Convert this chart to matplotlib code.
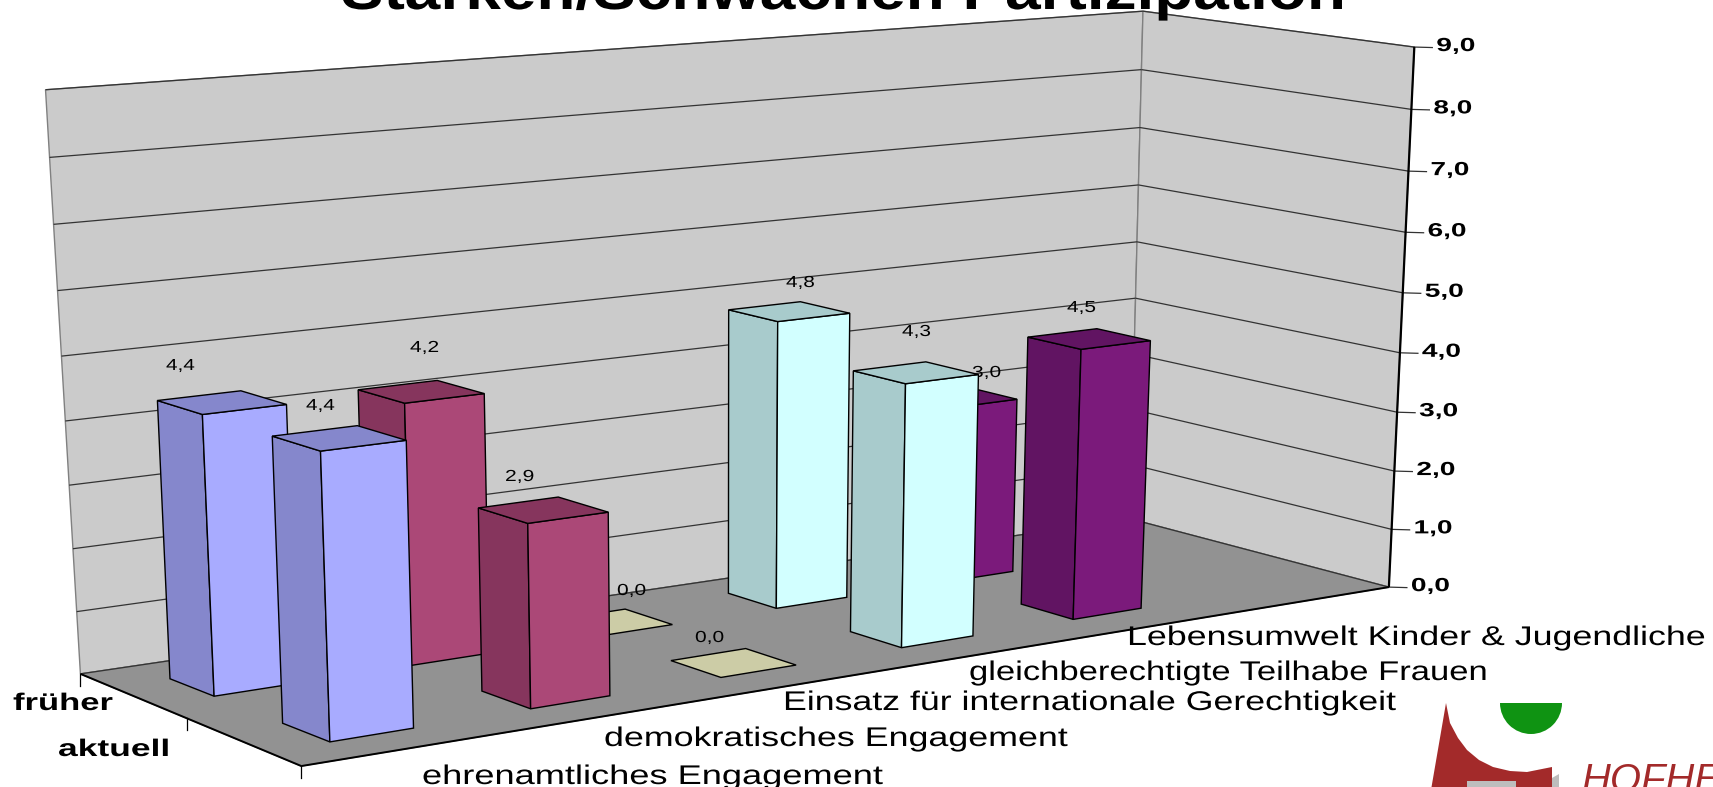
import matplotlib
matplotlib.use('Agg')
import matplotlib.pyplot as plt
import numpy as np
from matplotlib.patches import Polygon, Rectangle, Wedge
from matplotlib.patheffects import AbstractPathEffect
from matplotlib.transforms import Affine2D

plt.rcParams['font.family'] = ['Liberation Sans', 'DejaVu Sans']

# Datos
categorias = ['ehrenamtliches Engagement', 'demokratisches Engagement',
              'Einsatz für internationale Gerechtigkeit',
              'gleichberechtigte Teilhabe Frauen', 'Lebensumwelt Kinder & Jugendliche']
series = ['früher', 'aktuell']
frueher = [4.4, 4.2, 0.0, 4.8, 3.0]
aktuell = [4.4, 2.9, 0.0, 4.3, 4.5]
ticks_z = [0, 1, 2, 3, 4, 5, 6, 7, 8, 9]
titulo = 'Stärken/Schwächen Partizipation'

# Colores por categoria: frente, lado, arriba
col_frente = ['#A8ABFF', '#AB4877', '#CCCCA6', '#D2FFFF', '#7B1A7B']
col_lado = ['#8587CC', '#86355D', '#A3A385', '#A8CBCC', '#611462']
col_arriba = ['#8587CC', '#86355D', '#CCCCA6', '#A8CBCC', '#611462']

# Tamaño de la barra dentro de su casilla
ANCHO = 0.41
FONDO = 0.40
ESC = 1713 / 1568

# Camara de la caja: (cat, serie, valor) -> pixel
caja_3d = [(0, 0, 0), (5, 0, 0), (5, 2, 0), (0, 2, 0), (0, 0, 9), (5, 0, 9), (5, 2, 9), (0, 1, 0)]
caja_px = [(80, 672), (1132, 520), (1387, 586), (302, 767), (46, 90), (1141, 11), (1416, 47), (186, 719)]

# Camara de las barras: la referencia no es una perspectiva unica, se calibra aparte
A, D = ANCHO, FONDO
barra_3d = [
    (0, 0, 4.4), (0, D, 4.4), (A, D, 4.4), (A, 0, 4.4), (0, 0, 0), (0, D, 0), (A, D, 0),
    (0, 1, 4.4), (0, 1 + D, 4.4), (A, 1 + D, 4.4), (0, 1, 0), (0, 1 + D, 0), (A, 1 + D, 0),
    (1, 0, 4.2), (1, D, 4.2), (1 + A, D, 4.2), (1, 1, 2.9), (1, 1 + D, 2.9), (1 + A, 1 + D, 2.9),
    (1, 1, 0), (1, 1 + D, 0), (1 + A, 1 + D, 0),
    (2, 1, 0), (2, 1 + D, 0), (2 + A, 1 + D, 0), (2 + A, 1, 0),
    (3, 0, 4.8), (3, D, 4.8), (3 + A, D, 4.8), (3, 0, 0), (3, D, 0), (3 + A, D, 0),
    (3, 1, 4.3), (3, 1 + D, 4.3), (3 + A, 1 + D, 4.3), (3, 1, 0), (3, 1 + D, 0), (3 + A, 1 + D, 0),
    (4, 1, 4.5), (4, 1 + D, 4.5), (4 + A, 1 + D, 4.5), (4 + A, 1, 4.5),
    (4, 1, 0), (4, 1 + D, 0), (4 + A, 1 + D, 0),
]
barra_px = [
    (144, 366), (186, 378), (262, 370), (219, 358), (159, 620), (197, 637), (260, 628),
    (250, 400), (292, 414), (369, 403), (261, 661), (303, 679), (379, 668),
    (330, 356), (373, 368), (440, 360), (440, 467), (486, 478), (557, 468),
    (443, 632), (486, 650), (557, 637),
    (614, 604), (660, 620), (728, 610), (680, 595),
    (667, 285), (713, 296), (777, 286), (667, 545), (713, 557), (773, 547),
    (781, 340), (829, 351), (893, 342), (781, 572), (827, 592), (890, 583),
    (940, 309), (989, 320), (1054, 311), (1006, 301),
    (936, 551), (982, 568), (1043, 558),
]


def ajustar_camara(p3, px):
    filas, b = [], []
    for (X, Y, Z), (u, v) in zip(p3, px):
        filas.append([X, Y, Z, 1, 0, 0, 0, 0, -u * X, -u * Y, -u * Z])
        filas.append([0, 0, 0, 0, X, Y, Z, 1, -v * X, -v * Y, -v * Z])
        b += [u, v]
    sol = np.linalg.lstsq(np.array(filas, float), np.array(b, float), rcond=None)[0]
    return np.append(sol, 1.0).reshape(3, 4)


P_caja = ajustar_camara(caja_3d, caja_px)
P_barra = ajustar_camara(barra_3d, [(u * ESC, v * ESC) for u, v in barra_px])


def proy(p, P=P_caja):
    h = P @ np.array([p[0], p[1], p[2], 1.0])
    return h[0] / h[2], h[1] / h[2]


class Ensanchar(AbstractPathEffect):
    # la referencia esta estirada en horizontal
    def __init__(self, x0, sx):
        super().__init__()
        self.x0, self.sx = x0, sx

    def draw_path(self, renderer, gc, tpath, affine, rgbFace=None):
        t = affine + Affine2D().translate(-self.x0, 0).scale(self.sx, 1).translate(self.x0, 0)
        renderer.draw_path(gc, tpath, t, rgbFace)


fig = plt.figure(figsize=(17.13, 7.87), dpi=100)
ax = fig.add_axes([0, 0, 1, 1])
ax.set_xlim(0, 1713)
ax.set_ylim(787, 0)
ax.axis('off')


def texto(s, x0, x1, y, px, bold=False, color='black', zorder=40, style='normal'):
    t = ax.text(x0, y, s, ha='left', va='baseline', fontsize=px * 0.72,
                fontweight='bold' if bold else 'normal', color=color, zorder=zorder, style=style)
    w = t.get_window_extent(fig.canvas.get_renderer()).width
    t.set_path_effects([Ensanchar(x0, (x1 - x0) / w)])
    return t


def cara(puntos, color, zorder, ec='black', lw=1.0, P=P_caja):
    ax.add_patch(Polygon([proy(p, P) for p in puntos], closed=True, fc=color, ec=ec, lw=lw, zorder=zorder))


def linea(a, b, color='black', lw=1.0, zorder=3):
    pa, pb = proy(a), proy(b)
    ax.plot([pa[0], pb[0]], [pa[1], pb[1]], color=color, lw=lw, zorder=zorder, solid_capstyle='butt')


# Paredes y suelo
cara([(0, 0, 0), (5, 0, 0), (5, 0, 9), (0, 0, 9)], '#CBCBCB', 1, ec='#808080')
cara([(5, 0, 0), (5, 2, 0), (5, 2, 9), (5, 0, 9)], '#CBCBCB', 1, ec='#808080')
cara([(0, 0, 0), (5, 0, 0), (5, 2, 0), (0, 2, 0)], '#929292', 2, ec='#808080')

# Rejilla y eje de valores
for z in ticks_z:
    linea((0, 0, z), (5, 0, z), color='#333333', lw=0.9)
    linea((5, 0, z), (5, 2, z), color='#333333', lw=0.9)
    px_, py_ = proy((5, 2, z))
    ax.plot([px_, px_ + 18], [py_, py_ + 0.5], color='#333333', lw=0.9, zorder=3)
    x_lab = px_ + 22
    texto(f'{z},0', x_lab, x_lab + 39, py_ + 4, 19, bold=True)
linea((5, 2, 0), (5, 2, 9), lw=1.6, zorder=4)
linea((0, 2, 0), (5, 2, 0), lw=1.4, zorder=4)
linea((0, 0, 0), (0, 2, 0), lw=1.4, zorder=4)
for s in range(3):
    px_, py_ = proy((0, s, 0))
    ax.plot([px_, px_], [py_, py_ + 12], color='black', lw=0.9, zorder=4)

# Etiquetas de datos
etiq_x = [[166, 410, 617, 786, 972], [306, 505, 695, 902, 1067]]
etiq_y = [[370, 352, 595, 287, 377], [410, 481, 642, 336, 312]]

# Barras, de atras hacia delante; cada etiqueta va con su barra
orden = 5
for i in range(4, -1, -1):
    for j, valores in enumerate([frueher, aktuell]):
        v = valores[i]
        x0, x1 = i, i + ANCHO
        y0, y1 = j, j + FONDO
        orden += 1
        if v > 0:
            cara([(x0, y0, 0), (x0, y1, 0), (x0, y1, v), (x0, y0, v)], col_lado[i], orden, P=P_barra)
            cara([(x0, y1, 0), (x1, y1, 0), (x1, y1, v), (x0, y1, v)], col_frente[i], orden, P=P_barra)
        cara([(x0, y0, v), (x1, y0, v), (x1, y1, v), (x0, y1, v)], col_arriba[i], orden, P=P_barra)
        s = f'{v:.1f}'.replace('.', ',')
        texto(s, etiq_x[j][i], etiq_x[j][i] + 29, etiq_y[j][i], 16, zorder=orden + 0.5)

# Nombres de categorias y series
cat_x0 = [422, 604, 783, 969, 1127]
cat_x1 = [883, 1068, 1396, 1488, 1706]
cat_y = [784, 746, 710, 680, 645]
for s, a, b, y in zip(categorias, cat_x0, cat_x1, cat_y):
    texto(s, a, b, y, 27)
texto(series[0], 13, 113, 710, 24, bold=True)
texto(series[1], 58, 170, 756, 24, bold=True)

# Titulo, cortado por arriba
texto(titulo, 341, 1344, 9, 56, bold=True)

# Logo, cortado abajo a la derecha
rojo = '#A32A2A'
ax.add_patch(Polygon([(1446, 703), (1450, 723), (1458, 738), (1467, 750), (1479, 760), (1493, 767), (1510, 771),
                      (1527, 772), (1552, 767), (1552, 790), (1431, 790)], fc=rojo, ec='none', zorder=5))
ax.add_patch(Rectangle((1467, 781), 49, 8, fc='#BDBDBD', ec='none', zorder=6))
ax.add_patch(Polygon([(1552, 778), (1559, 774), (1559, 790), (1552, 790)], fc='#BDBDBD', ec='none', zorder=5))
# el eje y esta invertido: 0-180 grados queda hacia abajo
ax.add_patch(Wedge((1531, 703), 31, 0, 180, fc='#0F9312', ec='none', zorder=5))
ax.text(1582, 792, 'HOFHE', fontsize=40 * 0.72, style='italic', color=rojo, ha='left', va='baseline', zorder=6)

plt.savefig('out.png', dpi=100)
